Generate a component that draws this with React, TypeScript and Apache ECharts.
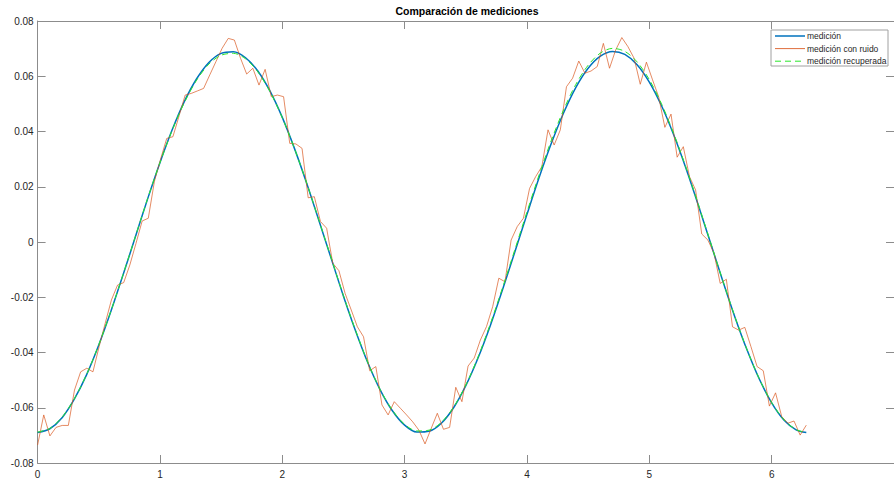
import React, { useEffect, useRef } from "react";
import * as echarts from "echarts";

// Sample positions of the clean / recovered curves (0 … 2π)
const smoothX = [
  0, 0.1, 0.2, 0.3, 0.4, 0.5, 0.6, 0.7, 0.8, 0.9, 1.0, 1.1, 1.2, 1.3, 1.4, 1.5,
  1.6, 1.7, 1.8, 1.9, 2.0, 2.1, 2.2, 2.3, 2.4, 2.5, 2.6, 2.7, 2.8, 2.9, 3.0, 3.1,
  3.2, 3.3, 3.4, 3.5, 3.6, 3.7, 3.8, 3.9, 4.0, 4.1, 4.2, 4.3, 4.4, 4.5, 4.6, 4.7,
  4.8, 4.9, 5.0, 5.1, 5.2, 5.3, 5.4, 5.5, 5.6, 5.7, 5.8, 5.9, 6.0, 6.1, 6.2, 6.2832,
];

// medición
const medicion = [
  -0.069, -0.0676, -0.0636, -0.0569, -0.0481, -0.0373, -0.025, -0.0117, 0.002,
  0.0157, 0.0287, 0.0406, 0.0509, 0.0591, 0.065, 0.0683, 0.0689, 0.0667, 0.0619,
  0.0546, 0.0451, 0.0338, 0.0212, 0.0077, -0.006, -0.0196, -0.0323, -0.0438,
  -0.0535, -0.0611, -0.0663, -0.0688, -0.0685, -0.0656, -0.06, -0.052, -0.042,
  -0.0303, -0.0173, -0.0037, 0.01, 0.0234, 0.0358, 0.0468, 0.056, 0.0629, 0.0673,
  0.069, 0.0679, 0.0642, 0.0579, 0.0493, 0.0387, 0.0266, 0.0134, -0.0003, -0.014,
  -0.0272, -0.0392, -0.0497, -0.0582, -0.0644, -0.068, -0.069,
];

// medición recuperada
const recuperada = [
  -0.0688, -0.0675, -0.0634, -0.0568, -0.048, -0.0372, -0.0249, -0.0116, 0.0021,
  0.0158, 0.0287, 0.0404, 0.0505, 0.0586, 0.0644, 0.0676, 0.0683, 0.0663, 0.0616,
  0.0544, 0.045, 0.0338, 0.0213, 0.0078, -0.0058, -0.0194, -0.0321, -0.0437,
  -0.0534, -0.0609, -0.066, -0.0684, -0.0681, -0.0653, -0.0598, -0.0518, -0.0416,
  -0.0297, -0.0166, -0.0029, 0.0109, 0.0244, 0.0369, 0.0479, 0.0571, 0.064, 0.0684,
  0.0701, 0.069, 0.0652, 0.0588, 0.05, 0.0392, 0.027, 0.0137, -0.0001, -0.0139,
  -0.0271, -0.0391, -0.0496, -0.0581, -0.0643, -0.0679, -0.0689,
];

// medición con ruido (126 samples evenly spaced over 0 … 2π)
const conRuido = [
  -0.0735, -0.0626, -0.0702, -0.0671, -0.0664, -0.0664, -0.0536, -0.047, -0.0457,
  -0.047, -0.0379, -0.0294, -0.021, -0.0156, -0.0147, -0.0083, -0.0005, 0.0076,
  0.0086, 0.022, 0.03, 0.0375, 0.0381, 0.0456, 0.0532, 0.0538, 0.0547, 0.0556,
  0.0605, 0.0653, 0.0701, 0.0737, 0.0731, 0.0665, 0.0608, 0.0629, 0.0568, 0.0625,
  0.0526, 0.0532, 0.0526, 0.0357, 0.0355, 0.0339, 0.016, 0.0164, 0.0074, 0.005,
  -0.0077, -0.0104, -0.0186, -0.0246, -0.0307, -0.0343, -0.0466, -0.0451, -0.059,
  -0.0626, -0.0578, -0.0602, -0.0626, -0.0651, -0.0681, -0.0731, -0.0675, -0.062,
  -0.0678, -0.0671, -0.0526, -0.0578, -0.0449, -0.042, -0.0355, -0.0306, -0.0234,
  -0.0131, -0.0144, 0.0007, 0.0056, 0.0086, 0.0194, 0.0237, 0.0273, 0.0406, 0.0351,
  0.0406, 0.0562, 0.0593, 0.0655, 0.0611, 0.0619, 0.0635, 0.0719, 0.0629, 0.0695,
  0.074, 0.0707, 0.0665, 0.0571, 0.0651, 0.0587, 0.0525, 0.0415, 0.0463, 0.0307,
  0.0345, 0.0237, 0.0188, 0.0029, 0.0007, -0.0041, -0.015, -0.0135, -0.0307,
  -0.0319, -0.0309, -0.0379, -0.0451, -0.0466, -0.0594, -0.0546, -0.0632, -0.0656,
  -0.0648, -0.0699, -0.0663,
];
const ruidoX = conRuido.map((_, i) => (i * 2 * Math.PI) / (conRuido.length - 1));

const xTicks = { min: 0, max: 7, interval: 1 };
const yTicks = { min: -0.08, max: 0.08, interval: 0.02 };

const legendNames = ["medición", "medición con ruido", "medición recuperada"];
const colors = ["#0072BD", "#D95319", "#2BE62B"];

const FONT = '"Liberation Sans", Arial, Helvetica, sans-serif';
const AXIS_COLOR = "#8c8c8c";
const LABEL_COLOR = "#262626";

export default function App() {
  const ref = useRef<HTMLDivElement>(null);

  useEffect(() => {
    if (!ref.current) return;
    const chart = echarts.init(ref.current, undefined, { renderer: "svg" });

    const axisLine = { show: true, onZero: false, lineStyle: { color: AXIS_COLOR, width: 1 } };
    const tick = { show: true, inside: true, length: 8, lineStyle: { color: AXIS_COLOR } };
    const label = { fontSize: 10, color: LABEL_COLOR, fontFamily: FONT };

    const legendX = 771;
    const legendY = 30;
    const rowH = 12.6;
    const legendGraphics: any[] = [
      {
        type: "rect",
        shape: { x: legendX, y: legendY, width: 117, height: 36 },
        style: { fill: "#fff", stroke: "#a0a0a0", lineWidth: 1 },
        z: 100,
      },
    ];
    legendNames.forEach((name, i) => {
      const cy = legendY + 6 + i * rowH;
      legendGraphics.push({
        type: "line",
        shape: { x1: legendX + 4, y1: cy, x2: legendX + 34, y2: cy },
        style: {
          stroke: colors[i],
          lineWidth: i === 0 ? 1.5 : 1,
          lineDash: i === 2 ? [6, 4] : null,
          opacity: i === 1 ? 0.85 : 1,
        },
        z: 101,
      });
      legendGraphics.push({
        type: "text",
        x: legendX + 36,
        y: cy,
        style: {
          text: name,
          font: `8.5px ${FONT}`,
          fill: LABEL_COLOR,
          textVerticalAlign: "middle",
        },
        z: 101,
      });
    });

    chart.setOption({
      animation: false,
      backgroundColor: "#ffffff",
      grid: { left: 37.6, right: -3.2, top: 21, bottom: 19 },
      xAxis: [
        {
          type: "value",
          ...xTicks,
          position: "bottom",
          axisLine,
          axisTick: tick,
          axisLabel: { ...label, margin: 6, showMaxLabel: false },
          splitLine: { show: false },
        },
        {
          type: "value",
          ...xTicks,
          position: "top",
          axisLine,
          axisTick: tick,
          axisLabel: { show: false },
          splitLine: { show: false },
        },
      ],
      yAxis: [
        {
          type: "value",
          ...yTicks,
          position: "left",
          axisLine,
          axisTick: tick,
          axisLabel: {
            ...label,
            margin: 4,
            formatter: (v: number) => (Math.abs(v) < 1e-9 ? "0" : v.toFixed(2)),
          },
          splitLine: { show: false },
        },
        {
          type: "value",
          ...yTicks,
          position: "right",
          axisLine,
          axisTick: tick,
          axisLabel: { show: false },
          splitLine: { show: false },
        },
      ],
      series: [
        {
          name: legendNames[0],
          type: "line",
          xAxisIndex: 0,
          yAxisIndex: 0,
          data: smoothX.map((x, i) => [x, medicion[i]]),
          showSymbol: false,
          symbol: "none",
          smooth: 0.3,
          lineStyle: { color: colors[0], width: 1.5 },
          z: 2,
        },
        {
          name: legendNames[1],
          type: "line",
          xAxisIndex: 0,
          yAxisIndex: 0,
          data: ruidoX.map((x, i) => [x, conRuido[i]]),
          showSymbol: false,
          symbol: "none",
          lineStyle: { color: colors[1], width: 0.8, opacity: 0.85 },
          z: 3,
        },
        {
          name: legendNames[2],
          type: "line",
          xAxisIndex: 0,
          yAxisIndex: 0,
          data: smoothX.map((x, i) => [x, recuperada[i]]),
          showSymbol: false,
          symbol: "none",
          smooth: 0.3,
          lineStyle: { color: colors[2], width: 1, type: [6, 4] },
          z: 4,
        },
      ],
      graphic: [
        {
          type: "text",
          x: 467,
          y: 11,
          style: {
            text: "Comparación de mediciones",
            font: `bold 10.5px ${FONT}`,
            fill: "#000",
            textAlign: "center",
            textVerticalAlign: "middle",
          },
        },
        ...legendGraphics,
      ],
    });

    return () => chart.dispose();
  }, []);

  return (
    <div
      ref={ref}
      style={{ position: "fixed", left: 0, top: 0, width: 894, height: 482, background: "#fff" }}
    />
  );
}
